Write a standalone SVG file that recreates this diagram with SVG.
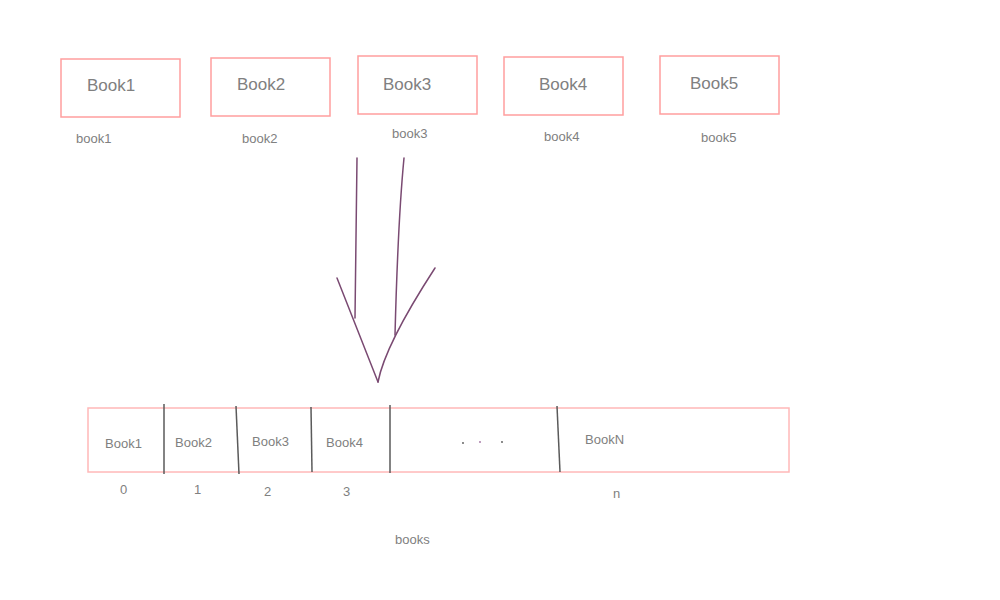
<svg xmlns="http://www.w3.org/2000/svg" width="1000" height="600" viewBox="0 0 1000 600">
<style>
.box{fill:#fff;stroke:#ff9e9e;stroke-width:1.5}
.arr{fill:none;stroke:#ffb8b8;stroke-width:1.5}
.t{font-family:"Liberation Sans",Arial,sans-serif;fill:#808080}
.big{font-size:17px}
.sm{font-size:13px}
.div{stroke:#5a5a5a;stroke-width:1.5;fill:none}
.pen{stroke:#7a4a72;stroke-width:1.5;fill:none;stroke-linecap:round}
</style>
<rect width="1000" height="600" fill="#fff"/>
<g id="book1"><rect class="box" x="61" y="59" width="119" height="58"/><text class="t big" x="87" y="91">Book1</text><text class="t sm" x="76" y="143">book1</text></g>
<g id="book2"><rect class="box" x="211" y="58" width="119" height="58"/><text class="t big" x="237" y="90">Book2</text><text class="t sm" x="242" y="143">book2</text></g>
<g id="book3"><rect class="box" x="358" y="56" width="119" height="58"/><text class="t big" x="383" y="90">Book3</text><text class="t sm" x="392" y="138">book3</text></g>
<g id="book4"><rect class="box" x="504" y="57" width="119" height="58"/><text class="t big" x="539" y="90">Book4</text><text class="t sm" x="544" y="141">book4</text></g>
<g id="book5"><rect class="box" x="660" y="56" width="119" height="58"/><text class="t big" x="690" y="89">Book5</text><text class="t sm" x="701" y="142">book5</text></g>
<g id="connectors">
<path class="pen" d="M357 158 L355 318" stroke="#6a6f70"/>
<path class="pen" d="M404 158 Q398 220 395 335"/>
<path class="pen" d="M337 278 L378 382"/>
<path class="pen" d="M378 382 Q385 345 435 268" stroke="#a080a0" stroke-width="2"/>
</g>
<g id="books">
<rect class="arr" x="88" y="408" width="701" height="64"/>
<path class="div" d="M164 404 L164 474" stroke="#5f7a66"/>
<path class="div" d="M236 406 L239 474" stroke="#4a4a60"/>
<path class="div" d="M311 407 L312 472" stroke="#6a5a5a"/>
<path class="div" d="M390 405 L390 473" stroke="#4a6650"/>
<path class="div" d="M557 406 L560 472" stroke="#7a4a55"/>
<text class="t sm" x="105" y="448">Book1</text>
<text class="t sm" x="175" y="447">Book2</text>
<text class="t sm" x="252" y="446">Book3</text>
<text class="t sm" x="326" y="447">Book4</text>
<circle cx="463" cy="443" r="0.9" fill="#555"/>
<circle cx="480" cy="442" r="0.9" fill="#a070a0"/>
<circle cx="502" cy="442" r="0.9" fill="#555"/>
<text class="t sm" x="585" y="444">BookN</text>
<text class="t sm" x="120" y="494">0</text>
<text class="t sm" x="194" y="494">1</text>
<text class="t sm" x="264" y="496">2</text>
<text class="t sm" x="343" y="496">3</text>
<text class="t sm" x="613" y="498">n</text>
<text class="t sm" x="395" y="544">books</text>
</g>
</svg>
